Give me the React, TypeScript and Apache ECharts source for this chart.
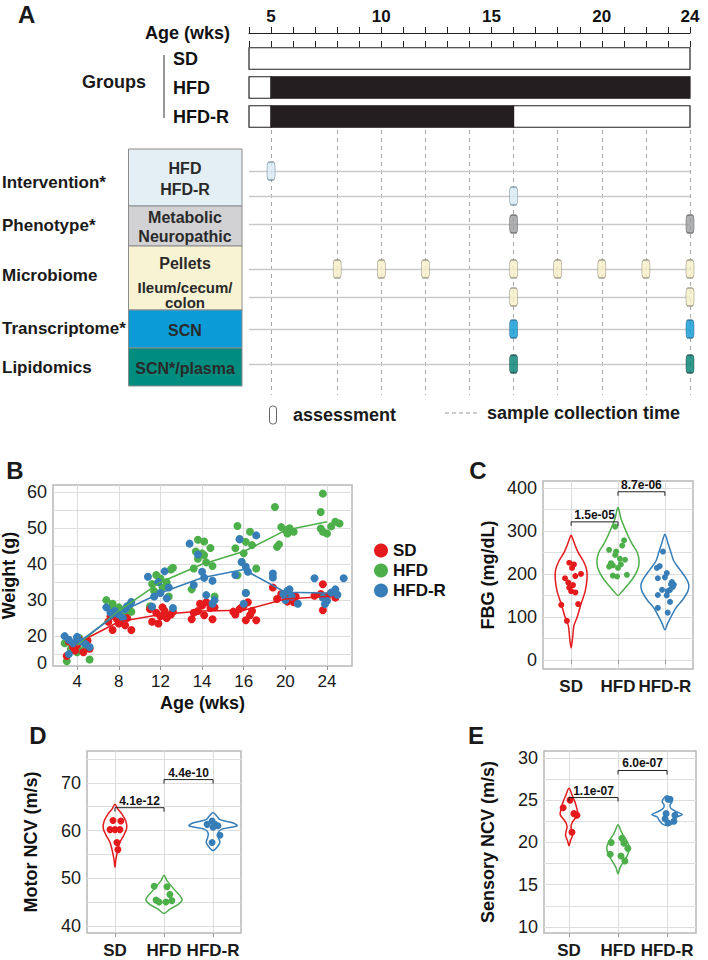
import React, { useEffect, useRef } from "react";
import * as echarts from "echarts";

const FONT = '"Liberation Sans", Arial, Helvetica, sans-serif';
const RED = "#E41A1C";
const GREEN = "#4DAF4A";
const BLUE = "#377EB8";
const GROUP_COLORS = [RED, GREEN, BLUE];

// ---------------- Panel A data ----------------
const GROUPS = ["SD", "HFD", "HFD-R"];
const A_WEEK_MIN = 4;
const A_WEEK_MAX = 24;
const A_TICK_LABELS = [5, 10, 15, 20, 24];
// [group, start week, end week, diet]
const DIET_PERIODS: [string, number, number, string][] = [
  ["SD", 4, 24, "SD"],
  ["HFD", 4, 5, "SD"],
  ["HFD", 5, 24, "HFD"],
  ["HFD-R", 4, 5, "SD"],
  ["HFD-R", 5, 16, "HFD"],
  ["HFD-R", 16, 24, "SD"],
];
const SAMPLE_WEEKS = [5, 8, 10, 12, 14, 16, 18, 20, 22, 24];
const TRACKS = ["Intervention HFD", "Intervention HFD-R", "Phenotype", "Microbiome pellets", "Microbiome gut", "Transcriptome", "Lipidomics"];
const ASSESSMENT_WEEKS: number[][] = [
  [5],
  [16],
  [16, 24],
  [8, 10, 12, 16, 18, 20, 22, 24],
  [16, 24],
  [16, 24],
  [16, 24],
];

// ---------------- Panel B data ----------------
const B_AGES = ["4", "8", "12", "14", "16", "20", "24"];
const B_Y_LABEL_VALUES = [12.5, 20, 30, 40, 50, 60];
const B_Y_LABEL_TEXT = ["0", "20", "30", "40", "50", "60"];
const B_GRID_VALUES = [15, 20, 25, 30, 35, 40, 45, 50, 55, 60];
const B_MEAN_SD = [18, 24, 26, 27, 27.2, 30.3, 31];
const B_MEAN_HFD = [17.5, 27, 35, 40, 43.5, 49.4, 51.8];
const B_MEAN_HFDR = [18, 26.5, 32, 36.2, 38.5, 32.2, 32];
const B_LETTERS = ["", "ab", "ab", "ab", "ab", "ac", "ac"];
const B_LETTER_Y = [0, 34.7, 43, 50.5, 55.5, 59.4, 62.2];
// per age: [jitter, weight]
const B_PTS_SD = [
  [[-0.2, 18.5], [-0.1, 17], [0.05, 19], [0.2, 18], [0.3, 16.5], [-0.25, 14.5], [0.15, 15.5], [0, 17.5], [-0.05, 16], [0.25, 18.8]],
  [[-0.25, 24], [-0.15, 21.7], [0.3, 21.7], [0.1, 24.5], [0, 23.5], [0.2, 25], [-0.05, 24.8], [0.15, 23], [-0.2, 25.5]],
  [[-0.25, 27.5], [-0.1, 26.5], [0, 25.5], [0.1, 27], [0.25, 26], [0.15, 25], [-0.2, 24], [-0.05, 23.5], [0.3, 26.8], [0.05, 28]],
  [[-0.25, 24.7], [0.25, 24.7], [-0.1, 27], [0, 28.5], [0.1, 29.4], [0.2, 27.8], [-0.2, 26.5], [0.05, 25.8], [0.3, 28], [-0.05, 29]],
  [[-0.2, 26], [-0.1, 27.5], [0, 28.5], [0.1, 29.4], [0.2, 27], [0.05, 24.4], [0.3, 24.4], [-0.25, 26.8], [0.15, 25.8], [-0.05, 28]],
  [[-0.3, 33.5], [-0.1, 31.7], [0, 30.7], [0.1, 30], [0.2, 29.4], [0.25, 31], [-0.2, 30.3], [0.05, 29.6]],
  [[-0.1, 34.4], [-0.15, 31.7], [0, 31], [0.2, 30.7], [0.1, 32], [-0.3, 31.2], [-0.1, 27.2]],
];
const B_PTS_HFD = [
  [[-0.25, 13], [0.3, 13.5], [-0.15, 16.5], [0.1, 16], [0.2, 17], [0, 15.5], [-0.3, 18], [0.05, 19.5], [0.25, 16.8], [-0.1, 17.5]],
  [[-0.3, 30], [-0.15, 29], [0, 28], [0.2, 27], [0.1, 26], [-0.2, 27.5], [0.25, 28.5], [-0.05, 25.5], [0.3, 26.8]],
  [[0.3, 39], [0.25, 38.5], [-0.1, 37], [0, 36], [0.15, 35], [-0.2, 34.5], [0.05, 33.5], [-0.15, 32.5], [0.2, 31], [-0.25, 28.3]],
  [[-0.15, 43.5], [0, 43], [0.2, 44.5], [-0.1, 41.5], [0.1, 40.5], [0.25, 39.5], [-0.2, 38.8], [-0.25, 33], [0.3, 31], [0.05, 42.5], [-0.1, 46.8], [0.05, 46.3]],
  [[-0.15, 50.6], [0.15, 49], [-0.1, 47], [0.05, 46.2], [0.2, 45.3], [-0.2, 44.4], [0, 43], [-0.05, 40.6], [0.3, 38.8], [-0.15, 36.9], [0.05, 32]],
  [[-0.25, 55.9], [-0.1, 50.3], [0, 49.5], [0.2, 49], [0.1, 50], [-0.15, 45.5], [-0.2, 44.8], [0.05, 48.5]],
  [[-0.1, 59.6], [-0.15, 54.5], [0.2, 51.8], [0.3, 51.3], [-0.15, 49.9], [-0.1, 49], [0, 48.5], [0.1, 50.5]],
];
const B_PTS_HFDR = [
  [[-0.3, 20], [-0.2, 19], [0, 19.5], [0.1, 18.5], [-0.1, 18], [0.2, 17.8], [-0.2, 15], [0, 19.8], [0.3, 17]],
  [[0.3, 29.5], [0.2, 28.3], [-0.1, 27], [0, 26], [0.15, 27.5], [-0.2, 26.5], [0.1, 25], [-0.3, 28]],
  [[-0.3, 36.5], [0.1, 38], [-0.05, 35], [0.2, 33.5], [0, 32], [-0.15, 31], [0.15, 30.5], [0.3, 27.8], [-0.2, 28.2]],
  [[-0.3, 45.7], [-0.1, 42.7], [0, 37.9], [0.05, 36.2], [-0.2, 34.2], [0.25, 35.4], [0.25, 29], [0.3, 30], [0.1, 31.4]],
  [[0.3, 48], [-0.1, 46.9], [-0.05, 40.6], [0.05, 39.3], [0.1, 37.9], [-0.2, 37], [0.05, 32], [0, 29]],
  [[-0.3, 37.4], [-0.3, 36.3], [0.05, 32.6], [0.1, 33], [-0.05, 31.7], [0.3, 29], [0.15, 31], [0, 30]],
  [[-0.3, 36.1], [0.4, 36.1], [0.2, 33], [0.1, 32.1], [-0.1, 30.7], [0, 29.8], [-0.05, 28.9], [0.25, 31.5]],
];

// ---------------- Panel C data (FBG) ----------------
const C_Y_LABELS = [0, 100, 200, 300, 400];
const C_GRID = [0, 50, 100, 150, 200, 250, 300, 350, 400];
// violin outline: [value, half width in category units]
const C_VIOLINS = [
  [[28, 0], [50, 0.03], [80, 0.06], [100, 0.13], [130, 0.21], [160, 0.3], [190, 0.34], [210, 0.33], [230, 0.26], [250, 0.15], [265, 0.09], [280, 0.04], [290, 0]],
  [[150, 0], [160, 0.09], [175, 0.21], [190, 0.32], [210, 0.42], [230, 0.45], [250, 0.41], [270, 0.3], [290, 0.21], [310, 0.13], [330, 0.06], [345, 0.03], [355, 0]],
  [[70, 0], [85, 0.06], [100, 0.13], [120, 0.23], [140, 0.38], [160, 0.49], [175, 0.51], [190, 0.45], [210, 0.32], [230, 0.19], [250, 0.13], [270, 0.07], [285, 0.03], [292, 0]],
];
const C_POINTS = [
  [[-0.04, 226], [0.06, 222], [0.02, 214], [-0.13, 190], [0.09, 195], [0.21, 200], [-0.06, 180], [0.04, 174], [-0.04, 168], [0, 160], [0.09, 157], [-0.21, 128], [0.15, 130], [-0.09, 91]],
  [[-0.06, 310], [0.13, 278], [-0.19, 256], [-0.04, 252], [0.09, 266], [-0.06, 244], [0.04, 235], [0.15, 233], [-0.19, 217], [-0.11, 220], [0, 214], [-0.11, 196], [-0.02, 194], [0.19, 198], [-0.15, 225], [0.06, 222]],
  [[-0.04, 252], [-0.17, 214], [-0.11, 218], [0.04, 202], [-0.15, 190], [0, 192], [0.15, 181], [0.17, 170], [0.11, 163], [-0.06, 163], [0.06, 160], [-0.15, 151], [0.04, 150], [0.11, 135], [-0.15, 121], [0.06, 110], [0.13, 176], [0.19, 175]],
];
const C_BRACKETS: [number, number, number, string][] = [
  [0, 1, 321, "1.5e-05"],
  [1, 2, 391, "8.7e-06"],
];

// ---------------- Panel D data (Motor NCV) ----------------
const D_Y_LABELS = [40, 50, 60, 70];
const D_GRID = [40, 45, 50, 55, 60, 65, 70, 75];
const D_VIOLINS = [
  [[52.3, 0], [54, 0.02], [56, 0.06], [57.5, 0.1], [59, 0.18], [60.5, 0.24], [62, 0.22], [63.5, 0.14], [64.5, 0.06], [65.5, 0]],
  [[42.6, 0], [43.5, 0.12], [44.5, 0.29], [45.5, 0.37], [46.5, 0.31], [47.5, 0.22], [48.5, 0.14], [49.5, 0.06], [50.6, 0]],
  [[55.8, 0], [56.5, 0.08], [57.5, 0.14], [58.5, 0.11], [59.5, 0.1], [60.3, 0.18], [61, 0.49], [61.6, 0.41], [62.3, 0.14], [63, 0.08], [63.8, 0]],
];
const D_POINTS = [
  [[-0.04, 62.1], [0.12, 62], [-0.1, 60.2], [0, 60.2], [0.1, 60.2], [0.04, 57.5], [0.06, 56]],
  [[-0.2, 48.3], [0.06, 48.2], [0.12, 46.6], [-0.16, 45.4], [-0.1, 45], [0.04, 45], [0.16, 45.3]],
  [[-0.12, 61.3], [-0.02, 62], [0.04, 61.3], [0.1, 61], [0, 60.7], [0.14, 59], [-0.02, 57.5]],
];
const D_BRACKETS: [number, number, number, string][] = [
  [0, 1, 64.8, "4.1e-12"],
  [1, 2, 70.7, "4.4e-10"],
];

// ---------------- Panel E data (Sensory NCV) ----------------
const E_Y_LABELS = [10, 15, 20, 25, 30];
const E_GRID = [10, 12.5, 15, 17.5, 20, 22.5, 25, 27.5, 30];
const E_VIOLINS = [
  [[19.6, 0], [20.2, 0.03], [20.8, 0.07], [21.3, 0.06], [21.8, 0.04], [22.3, 0.06], [22.8, 0.12], [23.3, 0.18], [24, 0.16], [24.8, 0.12], [25.5, 0.07], [26.4, 0]],
  [[16.3, 0], [17, 0.04], [17.8, 0.12], [18.6, 0.2], [19.4, 0.23], [20.2, 0.18], [20.9, 0.1], [21.5, 0.05], [22.1, 0]],
  [[22, 0], [22.2, 0.1], [22.6, 0.16], [23, 0.2], [23.3, 0.31], [23.6, 0.2], [24, 0.08], [24.4, 0.06], [24.8, 0.1], [25.2, 0.07], [25.5, 0]],
];
const E_POINTS = [
  [[-0.12, 24.1], [0.02, 25], [0.1, 23.4], [0.16, 23.2], [0.06, 21.2]],
  [[-0.14, 20], [0.08, 20.5], [0.12, 19.9], [0.2, 19.3], [-0.16, 18.6], [0.06, 18.4], [0.14, 17.8]],
  [[0.06, 25.1], [0.02, 25.1], [-0.02, 23.4], [0.16, 23.2], [0.14, 22.5], [-0.04, 22.8], [0.02, 22.3]],
];
const E_BRACKETS: [number, number, number, string][] = [
  [0, 1, 25.3, "1.1e-07"],
  [1, 2, 28.5, "6.0e-07"],
];

// ---------------- layout (pixels) ----------------
const TRACK_Y = [41, 66, 94, 139, 167, 199, 234]; // offsets inside the track grid
const TRACK_STYLE = [
  { color: "#d8eaf5", borderColor: "#6f8799" },
  { color: "#d8eaf5", borderColor: "#6f8799" },
  { color: "#9b9c9f", borderColor: "#5f6063" },
  { color: "#f6efc8", borderColor: "#8d8a78" },
  { color: "#f6efc8", borderColor: "#8d8a78" },
  { color: "#0b9ad6", borderColor: "#2c6a8c" },
  { color: "#007f6f", borderColor: "#1f4f48" },
];
const TABLE_ROWS = [
  { y0: 149, y1: 206, fill: "#e3eff4", lines: [["HFD", 168, 16], ["HFD-R", 189, 16]] },
  { y0: 206, y1: 246, fill: "#d2d2d4", lines: [["Metabolic", 217, 16], ["Neuropathic", 236, 16]] },
  { y0: 246, y1: 310, fill: "#f8f3d2", lines: [["Pellets", 263, 16], ["Ileum/cecum/", 287, 15], ["colon", 302.5, 15]] },
  { y0: 310, y1: 348, fill: "#0b9cd8", lines: [["SCN", 330, 16]] },
  { y0: 348, y1: 386, fill: "#008c7e", lines: [["SCN*/plasma", 368, 16]] },
];
const ROW_LABELS: [string, number][] = [
  ["Intervention*", 182],
  ["Phenotype*", 225],
  ["Microbiome", 275],
  ["Transcriptome*", 328],
  ["Lipidomics", 367],
];

function txt(x: number, y: number, text: string, size: number, opts: any = {}) {
  const align = opts.align || "left";
  return {
    type: "text",
    x,
    y,
    silent: true,
    z: 50,
    style: {
      text,
      fontSize: size,
      fontWeight: opts.weight || "bold",
      fontFamily: FONT,
      fill: opts.color || "#1a1a1a",
      align,
      verticalAlign: "middle",
      textAlign: align,
      textVerticalAlign: "middle",
    },
  };
}

function violinSeries(name: string, idx: number, profiles: number[][][]) {
  return {
    name,
    type: "custom",
    xAxisIndex: idx,
    yAxisIndex: idx,
    z: 3,
    data: profiles.map((p, gi) => [gi, p[0][0]]),
    encode: { x: 0, y: 1 },
    renderItem: (params: any, api: any) => {
      const gi = api.value(0);
      const prof = profiles[params.dataIndex];
      const right = prof.map(([v, w]) => api.coord([gi + w, v]));
      const left = prof
        .slice(1, -1)
        .reverse()
        .map(([v, w]) => api.coord([gi - w, v]));
      return {
        type: "polygon",
        shape: { points: right.concat(left), smooth: 0.3 },
        style: { fill: "rgba(255,255,255,0)", stroke: GROUP_COLORS[params.dataIndex], lineWidth: 1.5 },
      };
    },
  };
}

function dotSeries(name: string, idx: number, points: number[][][], size: number) {
  return points.map((pts, gi) => ({
    name: name + "-" + GROUPS[gi],
    type: "scatter",
    xAxisIndex: idx,
    yAxisIndex: idx,
    z: 4,
    symbolSize: size,
    itemStyle: { color: GROUP_COLORS[gi], opacity: 1 },
    data: pts.map(([dx, v]) => [gi + dx, v]),
  }));
}

function bracketSeries(name: string, idx: number, brackets: [number, number, number, string][]) {
  return {
    name,
    type: "custom",
    xAxisIndex: idx,
    yAxisIndex: idx,
    z: 6,
    data: brackets.map((b) => [b[0], b[1], b[2]]),
    encode: { x: [0, 1], y: 2 },
    renderItem: (params: any, api: any) => {
      const b = brackets[params.dataIndex];
      const p1 = api.coord([b[0], b[2]]);
      const p2 = api.coord([b[1], b[2]]);
      return {
        type: "group",
        children: [
          {
            type: "polyline",
            shape: { points: [[p1[0], p1[1] + 4], [p1[0], p1[1]], [p2[0], p2[1]], [p2[0], p2[1] + 4]] },
            style: { stroke: "#222", lineWidth: 1, fill: "none" },
          },
          {
            type: "text",
            x: (p1[0] + p2[0]) / 2,
            y: p1[1] - 1,
            style: {
              text: b[3],
              fill: "#111",
              font: "bold 12px " + FONT,
              align: "center",
              verticalAlign: "bottom",
              textAlign: "center",
              textVerticalAlign: "bottom",
            },
          },
        ],
      };
    },
  };
}

function catXAxis(idx: number, min: number, max: number, labels: string[], bold: boolean, margin: number) {
  const pos = labels.map((_, i) => i);
  return {
    type: "value",
    gridIndex: idx,
    min,
    max,
    axisLine: { show: false },
    axisTick: { show: true, customValues: pos, length: 4, lineStyle: { color: "#9a9a9a" } },
    axisLabel: {
      customValues: pos,
      formatter: (v: number) => labels[Math.round(v)] || "",
      fontSize: 17,
      fontWeight: bold ? "bold" : "normal",
      fontFamily: FONT,
      color: "#1a1a1a",
      margin,
    },
    splitLine: { show: true, lineStyle: { color: "#dcdcdc", width: 1 } },
  };
}

function valYAxis(idx: number, min: number, max: number, labelVals: number[], gridVals: number[], name: string, nameGap: number, fmt?: (v: number) => string) {
  return {
    type: "value",
    gridIndex: idx,
    min,
    max,
    axisLine: { show: false },
    axisTick: { show: false, customValues: gridVals },
    axisLabel: {
      customValues: labelVals,
      formatter: fmt || ((v: number) => String(v)),
      fontSize: 18,
      fontFamily: FONT,
      color: "#1a1a1a",
      margin: 6,
    },
    splitLine: { show: true, lineStyle: { color: "#dedede", width: 1 } },
    name,
    nameLocation: "middle",
    nameRotate: 90,
    nameGap,
    nameTextStyle: { fontSize: 18, fontWeight: "bold", fontFamily: FONT, color: "#111" },
  };
}

function plotGrid(left: number, top: number, width: number, height: number) {
  return {
    left,
    top,
    width,
    height,
    show: true,
    borderColor: "#b8b8b8",
    borderWidth: 1.5,
    backgroundColor: "rgba(0,0,0,0)",
    containLabel: false,
    outerBoundsMode: "none",
  };
}

function buildOption() {
  const weeksGrid = (top: number, height: number) => ({
    left: 249,
    width: 441,
    top,
    height,
    show: false,
    containLabel: false,
    outerBoundsMode: "none",
  });

  const graphics: any[] = [];
  // panel letters
  graphics.push(txt(18, 14, "A", 24));
  graphics.push(txt(15, 470, "B", 24, { align: "center" }));
  graphics.push(txt(478, 470, "C", 24, { align: "center" }));
  graphics.push(txt(38, 735, "D", 24, { align: "center" }));
  graphics.push(txt(476, 735, "E", 24, { align: "center" }));
  // groups brace
  graphics.push(txt(114, 82, "Groups", 18, { align: "center" }));
  graphics.push({ type: "line", silent: true, shape: { x1: 164, y1: 55, x2: 164, y2: 118 }, style: { stroke: "#333", lineWidth: 1 } });
  // table
  TABLE_ROWS.forEach((r) => {
    graphics.push({
      type: "rect",
      silent: true,
      z: 10,
      shape: { x: 128.5, y: r.y0, width: 113.5, height: r.y1 - r.y0 },
      style: { fill: r.fill, stroke: "#8c8c8c", lineWidth: 1 },
    });
    r.lines.forEach(([t, y, s]) =>
      graphics.push(txt(185, y as number, t as string, s as number, { align: "center", color: "#2a2a2a" }))
    );
  });
  ROW_LABELS.forEach(([t, y]) => graphics.push(txt(2, y, t, 17)));
  // A legend
  graphics.push({
    type: "rect",
    silent: true,
    shape: { x: 269.5, y: 406, width: 7, height: 18, r: 3 },
    style: { fill: "#fff", stroke: "#666", lineWidth: 1 },
  });
  graphics.push(txt(293, 415, "assessment", 18));
  graphics.push({
    type: "line",
    silent: true,
    shape: { x1: 445, y1: 413, x2: 479, y2: 413 },
    style: { stroke: "#999", lineWidth: 1.2, lineDash: [4, 3] },
  });
  graphics.push(txt(487, 413, "sample collection time", 18));

  const markerData: any[] = [];
  ASSESSMENT_WEEKS.forEach((weeks, k) =>
    weeks.forEach((w) => markerData.push({ name: TRACKS[k], value: [w, TRACK_Y[k]], itemStyle: TRACK_STYLE[k] }))
  );

  const bLegendNames = ["SD", "HFD", "HFD-R"];
  const bPts = [B_PTS_SD, B_PTS_HFD, B_PTS_HFDR];
  const bMeans = [B_MEAN_SD, B_MEAN_HFD, B_MEAN_HFDR];
  const drawOrder = [1, 0, 2];

  const series: any[] = [
    // A: diet bars
    {
      name: "diet",
      type: "custom",
      xAxisIndex: 1,
      yAxisIndex: 1,
      data: DIET_PERIODS.map(([g, s, e, d]) => [s, e, GROUPS.indexOf(g), d === "HFD" ? 1 : 0]),
      encode: { x: [0, 1], y: 2 },
      renderItem: (params: any, api: any) => {
        const s = api.value(0);
        const e = api.value(1);
        const gi = api.value(2);
        const dark = api.value(3);
        const p1 = api.coord([s, gi]);
        const p2 = api.coord([e, gi]);
        const h = api.size([0, 1])[1] * 0.74;
        return {
          type: "rect",
          shape: { x: p1[0], y: p1[1] - h / 2, width: p2[0] - p1[0], height: h },
          style: { fill: dark ? "#231f20" : "#ffffff", stroke: "#231f20", lineWidth: 1.2 },
        };
      },
    },
    // A: guide lines
    {
      name: "guides",
      type: "scatter",
      xAxisIndex: 2,
      yAxisIndex: 2,
      z: 1,
      data: [],
      markLine: {
        silent: true,
        symbol: ["none", "none"],
        label: { show: false },
        animation: false,
        data: [
          ...SAMPLE_WEEKS.map((w) => ({ xAxis: w, lineStyle: { color: "#a8a8a8", width: 1, type: [4, 4] } })),
          ...TRACK_Y.map((y) => ({ yAxis: y, lineStyle: { color: "#c9c9c9", width: 1.4, type: "solid" } })),
        ],
      },
    },
    // A: assessment markers
    {
      name: "assessments",
      type: "scatter",
      xAxisIndex: 2,
      yAxisIndex: 2,
      z: 5,
      symbol: "roundRect",
      symbolSize: [8, 18],
      itemStyle: { borderWidth: 0.9 },
      data: markerData,
    },
  ];

  // B
  drawOrder.forEach((gi) => {
    series.push({
      name: bLegendNames[gi],
      type: "scatter",
      xAxisIndex: 3,
      yAxisIndex: 3,
      z: 3,
      symbolSize: 8,
      itemStyle: { color: GROUP_COLORS[gi], opacity: 1 },
      data: bPts[gi].flatMap((pts, ai) => pts.map(([dx, v]) => [ai + dx, v])),
    });
  });
  [0, 1, 2].forEach((gi) => {
    series.push({
      name: "mean-" + GROUPS[gi],
      type: "line",
      xAxisIndex: 3,
      yAxisIndex: 3,
      z: 4,
      symbol: "none",
      lineStyle: { color: GROUP_COLORS[gi], width: 1.6 },
      data: bMeans[gi].map((m, ai) => [ai, m]),
    });
  });
  series.push({
    name: "letters",
    type: "scatter",
    xAxisIndex: 3,
    yAxisIndex: 3,
    z: 6,
    clip: false,
    symbolSize: 1,
    itemStyle: { opacity: 0 },
    label: { show: true, position: "inside", fontSize: 17, fontFamily: FONT, color: "#333" },
    data: B_LETTERS.map((t, i) => ({ value: [i, B_LETTER_Y[i]], label: { formatter: t } })).filter((_, i) => B_LETTERS[i] !== ""),
  });

  // C, D, E
  series.push(violinSeries("fbg-violin", 4, C_VIOLINS));
  series.push(...dotSeries("fbg", 4, C_POINTS, 6));
  series.push(bracketSeries("fbg-p", 4, C_BRACKETS));
  series.push(violinSeries("motor-violin", 5, D_VIOLINS));
  series.push(...dotSeries("motor", 5, D_POINTS, 7));
  series.push(bracketSeries("motor-p", 5, D_BRACKETS));
  series.push(violinSeries("sensory-violin", 6, E_VIOLINS));
  series.push(...dotSeries("sensory", 6, E_POINTS, 7));
  series.push(bracketSeries("sensory-p", 6, E_BRACKETS));

  return {
    animation: false,
    backgroundColor: "#ffffff",
    textStyle: { fontFamily: FONT },
    legend: {
      data: bLegendNames,
      left: 369,
      top: 537,
      orient: "vertical",
      icon: "circle",
      itemWidth: 14,
      itemHeight: 14,
      itemGap: 3,
      selectedMode: false,
      textStyle: { fontSize: 17, fontWeight: "bold", fontFamily: FONT, color: "#111", lineHeight: 15 },
    },
    grid: [
      weeksGrid(33, 8),
      weeksGrid(44, 87),
      weeksGrid(130, 265),
      plotGrid(53, 485, 299, 181),
      plotGrid(543, 481, 150, 188),
      plotGrid(87, 751, 154, 182),
      plotGrid(544, 751, 152, 182),
    ],
    xAxis: [
      {
        type: "value",
        gridIndex: 0,
        position: "top",
        min: A_WEEK_MIN,
        max: A_WEEK_MAX,
        interval: 1,
        axisLine: { show: false },
        axisTick: { show: true, inside: true, length: 6, lineStyle: { color: "#222", width: 1 } },
        axisLabel: { show: false },
        splitLine: { show: false },
      },
      {
        type: "value",
        gridIndex: 1,
        position: "top",
        offset: 11,
        min: A_WEEK_MIN,
        max: A_WEEK_MAX,
        interval: 1,
        axisLine: { show: true, lineStyle: { color: "#222", width: 1.2 } },
        axisTick: { show: true, length: 6, lineStyle: { color: "#222", width: 1 } },
        axisLabel: {
          formatter: (v: number) => (A_TICK_LABELS.indexOf(v) >= 0 ? String(v) : ""),
          fontSize: 17,
          fontWeight: "bold",
          fontFamily: FONT,
          color: "#111",
          margin: 8,
        },
        splitLine: { show: false },
        name: "Age (wks)",
        nameLocation: "start",
        nameGap: 19,
        nameTextStyle: { fontSize: 18, fontWeight: "bold", fontFamily: FONT, color: "#111" },
      },
      { type: "value", gridIndex: 2, min: A_WEEK_MIN, max: A_WEEK_MAX, show: false },
      {
        ...catXAxis(3, -0.58, 6.6, B_AGES, false, 7),
        name: "Age (wks)",
        nameLocation: "middle",
        nameGap: 28,
        nameTextStyle: { fontSize: 18, fontWeight: "bold", fontFamily: FONT, color: "#111" },
      },
      catXAxis(4, -0.6, 2.6, GROUPS, true, 9),
      catXAxis(5, -0.57, 2.57, GROUPS, true, 9),
      catXAxis(6, -0.51, 2.59, GROUPS, true, 9),
    ],
    yAxis: [
      { type: "value", gridIndex: 0, show: false, min: 0, max: 1 },
      {
        type: "category",
        gridIndex: 1,
        data: GROUPS,
        inverse: true,
        axisLine: { show: false },
        axisTick: { show: false },
        axisLabel: { align: "left", margin: 76, fontSize: 18, fontWeight: "bold", fontFamily: FONT, color: "#111" },
      },
      { type: "value", gridIndex: 2, min: 0, max: 265, inverse: true, show: false },
      valYAxis(3, 11.7, 62, B_Y_LABEL_VALUES, B_GRID_VALUES, "Weight (g)", 35, (v: number) => B_Y_LABEL_TEXT[B_Y_LABEL_VALUES.indexOf(v)] ?? String(v)),
      valYAxis(4, -21, 416, C_Y_LABELS, C_GRID, "FBG (mg/dL)", 46),
      valYAxis(5, 38.5, 76.7, D_Y_LABELS, D_GRID, "Motor NCV (m/s)", 47),
      valYAxis(6, 9.3, 30.8, E_Y_LABELS, E_GRID, "Sensory NCV (m/s)", 47),
    ],
    graphic: { elements: graphics },
    series,
  };
}

export default function App() {
  const ref = useRef<HTMLDivElement>(null);
  useEffect(() => {
    if (!ref.current) return;
    const chart = echarts.init(ref.current, null, { renderer: "svg", width: 708, height: 960 });
    chart.setOption(buildOption() as any);
    return () => chart.dispose();
  }, []);
  return (
    <div
      ref={ref}
      style={{ position: "absolute", left: 0, top: 0, width: 708, height: 960, background: "#ffffff" }}
    />
  );
}
